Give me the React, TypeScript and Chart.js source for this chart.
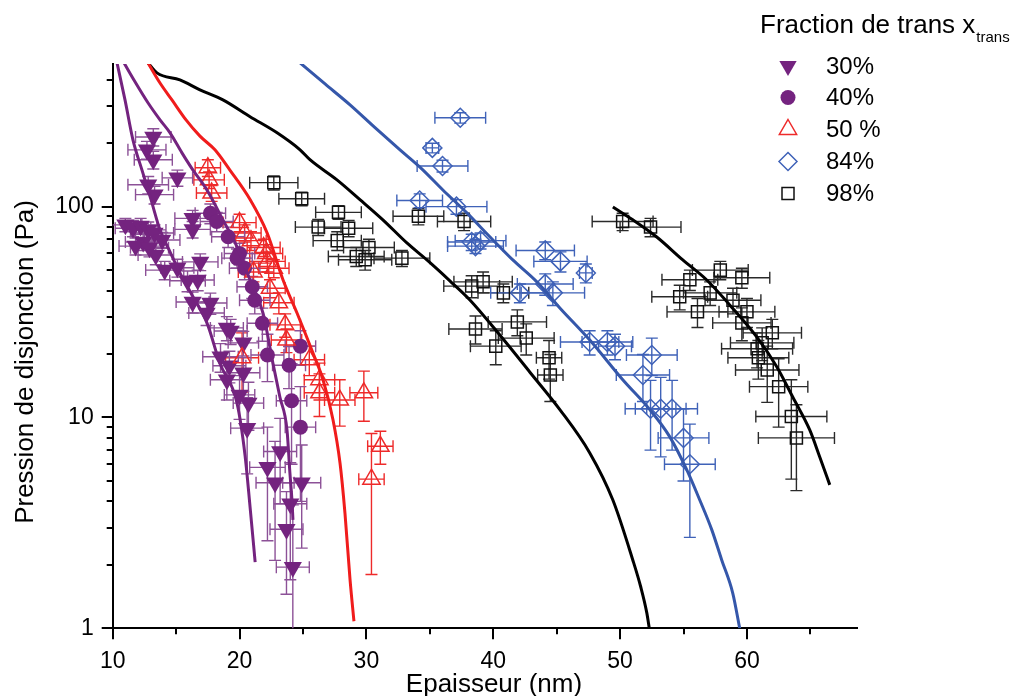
import React, { useEffect, useRef } from "react";
import { Chart, registerables } from "chart.js";

Chart.register(...registerables);

const FONT = "'Liberation Sans', Arial, Helvetica, sans-serif";

// ---- axes ----
const xMin = 10;
const xMax = 68.7;
const yMin = 1;
const yMax = 475;
const xTickValues = [10, 15, 20, 25, 30, 35, 40, 45, 50, 55, 60, 65];
const xLabeledTicks = [10, 20, 30, 40, 50, 60];
const xTickLabels = ["10", "20", "30", "40", "50", "60"];
const yTickValues = [1, 2, 3, 4, 5, 6, 7, 8, 9, 10, 20, 30, 40, 50, 60, 70, 80, 90, 100, 200, 300, 400];
const yLabeledTicks = [1, 10, 100];
const yTickLabels = ["1", "10", "100"];
const xTitle = "Epaisseur (nm)";
const yTitle = "Pression de disjonction (Pa)";
const legendTitle = "Fraction de trans x";
const legendSub = "trans";
const legendLabels = ["30%", "40%", "50 %", "84%", "98%"];

// ---- model curves ----
const curveA_X = [10.34, 10.97, 11.6, 12.31, 13.02, 13.73, 14.52, 15.3, 16.25, 17.43, 18.45, 19.8, 20.43, 20.83, 21.23];
const curveA_Y = [481, 321, 207, 149, 108, 77.6, 61.0, 48.5, 38.1, 28.1, 18.1, 11.7, 6.64, 3.76, 2.06];
const curveB_X = [10.89, 11.76, 12.78, 13.73, 14.52, 15.46, 16.33, 17.43, 18.69, 19.8, 20.83, 21.85, 22.63, 23.18, 23.74, 23.97, 24.13, 24.21];
const curveB_Y = [481, 391, 311, 258, 224, 180, 149, 120, 86.6, 64.4, 44.9, 31.3, 18.1, 12.5, 8.73, 5.46, 4.06, 3.27];
const curveRed_X = [12.78, 13.73, 14.67, 15.78, 16.88, 18.06, 19.24, 20.83, 22.17, 23.43, 24.53, 25.79, 26.58, 27.37, 27.92, 28.31, 28.71, 29.02];
const curveRed_Y = [481, 386, 321, 258, 216, 186, 149, 108, 75.1, 44.9, 31.3, 20.2, 15.1, 9.73, 6.08, 3.52, 1.7, 1.08];
const curveBlk1_X = [12.78, 13.49, 15.3, 16.88, 18.69, 20.83, 22.96, 24.77, 25.55, 27.68, 29.49, 31.3, 33.19, 34.77, 36.58, 38.16, 40.52, 42.89, 45.25, 47.61, 49.43, 51.0, 51.63, 52.11, 52.3];
const curveBlk1_Y = [481, 431, 399, 358, 321, 267, 224, 186, 167, 134, 108, 86.6, 67.3, 55.9, 44.5, 36.1, 24.6, 16.4, 10.9, 6.79, 4.06, 2.11, 1.57, 1.18, 1.0];
const curveBlue_X = [24.77, 26.74, 28.71, 30.68, 32.65, 34.22, 36.03, 37.92, 39.73, 41.54, 43.44, 45.25, 47.61, 50.21, 52.34, 53.92, 55.26, 56.28, 57.23, 58.01, 58.88, 59.43];
const curveBlue_Y = [481, 382, 304, 237, 186, 154, 120, 93.4, 72.0, 55.9, 44.0, 33.1, 23.3, 15.1, 10.9, 8.09, 5.64, 4.06, 2.93, 2.11, 1.47, 1.0];
const curveBlk2_X = [49.43, 51.0, 52.89, 54.94, 56.83, 58.64, 60.77, 62.35, 63.61, 64.95, 65.74, 66.53];
const curveBlk2_Y = [99.7, 86.6, 71.8, 55.9, 44.9, 34.2, 24.1, 17.4, 12.5, 8.73, 6.5, 4.79];

// ---- measured points: [thickness, pressure, thickness error, pressure error] ----
const pts30 = [
  [13.2, 214, 1.4, 20], [12.7, 186, 1.5, 18], [13.2, 167, 1.5, 16], [15.1, 137, 1.2, 12],
  [12.8, 127, 1.6, 12], [13.3, 114, 1.5, 11], [16.3, 88, 1.4, 8], [16.3, 78, 1.4, 7],
  [11.0, 82, 1.3, 6], [11.6, 79, 1.4, 7], [12.2, 81, 1.3, 7], [12.8, 77.6, 1.4, 7],
  [13.3, 75, 1.5, 7], [13.9, 69.5, 1.4, 6], [12.4, 68, 1.4, 6], [11.8, 65, 1.3, 6],
  [12.9, 63.8, 1.5, 6], [13.4, 59, 1.4, 6], [14.1, 50, 1.5, 5], [15.1, 51.3, 1.3, 5],
  [15.9, 44.5, 1.4, 5], [16.7, 44.9, 1.3, 5], [16.9, 54.7, 1.4, 5], [16.3, 35.3, 1.3, 4],
  [17.7, 34.9, 1.3, 4], [17.4, 31.3, 1.4, 4], [19.0, 26.6, 1.3, 3.5], [19.3, 25.7, 1.3, 3.5],
  [18.5, 19.4, 1.4, 3], [19.2, 17.6, 1.3, 3], [19.0, 15.1, 1.3, 3], [20.3, 16.3, 1.3, 3],
  [20.0, 12.8, 1.2, 3], [20.7, 11.7, 1.2, 3], [20.6, 8.9, 1.3, 3.5], [20.3, 22.6, 1.2, 3],
  [23.2, 6.9, 1.3, 3], [22.2, 5.8, 1.4, 3.2], [22.8, 4.9, 1.5, 2.8], [24.9, 4.9, 1.5, 2.5],
  [24.0, 3.9, 1.3, 2.2], [23.7, 2.95, 1.3, 1.5], [24.2, 1.95, 1.3, 1.9],
];
const pts40 = [
  [17.7, 93, 1.2, 10], [18.2, 85, 1.3, 9], [19.1, 72, 1.3, 8], [20.0, 60, 1.2, 7],
  [20.4, 51, 1.2, 6], [19.8, 57, 1.2, 6], [21.2, 36, 1.2, 5], [21.8, 28, 1.2, 5],
  [22.2, 19.8, 1.3, 5], [24.8, 21.8, 1.2, 4], [23.9, 17.7, 1.3, 4], [24.1, 12.0, 1.2, 6],
  [24.8, 9.0, 1.2, 5], [21.0, 41.7, 1.2, 5],
];
const pts50 = [
  [17.5, 153, 1.0, 14], [17.6, 134, 1.2, 12], [17.8, 116, 1.2, 10], [20.0, 84, 1.3, 8],
  [20.4, 75, 1.3, 7], [20.9, 69, 1.2, 7], [21.9, 64, 1.3, 6], [22.1, 60, 1.3, 6],
  [22.2, 55, 1.4, 6], [22.7, 51, 1.2, 5], [21.1, 49, 1.2, 5], [22.4, 41, 1.2, 4],
  [23.1, 35, 1.2, 4], [23.6, 27.5, 1.2, 3.5], [23.7, 23.3, 1.2, 3], [20.2, 19.2, 1.3, 6],
  [25.5, 18.8, 1.2, 3], [26.3, 15.1, 1.2, 3], [26.3, 13.1, 1.2, 3], [27.9, 12.1, 1.2, 3],
  [29.8, 13.1, 1.1, 3.5], [31.1, 7.3, 1.0, 1.3], [30.4, 5.1, 1.0, 3.3],
];
const pts84 = [
  [37.4, 264, 2.0, 15], [35.2, 190, 0.5, 10], [36.0, 156, 2.0, 10], [34.2, 107, 1.8, 8],
  [37.1, 100, 2.4, 8], [38.3, 68, 1.9, 6], [39.0, 69, 2.0, 6], [38.6, 65, 2.2, 5],
  [44.1, 62, 2.3, 6], [45.3, 55, 2.1, 6], [47.3, 48.5, 0.5, 5], [44.1, 43, 2.2, 5],
  [44.7, 39, 2.5, 5], [42.1, 39, 2.3, 4], [47.6, 22.8, 2.3, 3], [49.0, 22.8, 2.0, 3],
  [49.6, 21.8, 1.3, 3], [52.5, 19.8, 2.0, 4], [51.8, 15.9, 2.1, 4], [52.4, 11.0, 2.0, 4],
  [53.2, 11.0, 2.0, 4.5], [54.1, 11.0, 2.0, 4], [55.0, 8.0, 2.0, 3], [55.5, 6.0, 2.0, 3.3],
];
const pts98 = [
  [22.7, 130, 1.9, 10], [24.9, 109, 1.8, 8], [27.8, 94, 1.8, 7], [26.2, 80, 1.8, 7],
  [28.6, 79, 1.9, 7], [27.7, 69, 1.9, 7], [30.2, 64, 2.0, 6], [29.2, 58, 2.2, 6],
  [29.9, 56, 2.1, 6], [32.8, 57, 2.2, 5], [34.1, 90, 2.0, 8], [37.7, 85, 2.1, 8],
  [38.3, 42, 2.2, 5], [39.2, 44, 2.3, 5], [40.8, 39, 2.0, 4], [38.6, 26.3, 2.1, 4],
  [40.2, 21.8, 2.0, 4], [41.9, 28.4, 2.3, 4], [42.6, 23.8, 2.2, 4], [44.4, 19.2, 1.0, 4],
  [44.5, 15.9, 1.0, 4], [50.2, 85, 2.4, 8], [52.4, 80, 2.4, 8], [57.9, 50, 2.2, 5],
  [59.6, 46, 2.2, 5], [55.5, 45, 2.2, 5], [54.7, 37.4, 2.2, 5], [57.1, 39, 2.1, 5],
  [58.9, 36, 2.2, 5], [60.0, 31.7, 2.2, 5], [56.1, 31.7, 2.4, 5], [59.6, 28.1, 2.3, 5],
  [62.0, 25.2, 2.3, 4], [61.2, 22.6, 2.5, 4], [60.8, 21.2, 2.8, 4], [60.9, 19.2, 2.4, 4],
  [61.6, 16.8, 2.5, 5], [62.5, 14.0, 2.3, 5], [63.5, 10.1, 2.8, 5], [63.9, 8.0, 3.0, 3.5],
];

// ---- colours ----
const PURPLE = "#74237F";
const PURPLE_ERR = "#8C5197";
const RED = "#EE2A2A";
const RED_LINE = "#F01C1C";
const BLUE = "#3F62B8";
const BLUE_LINE = "#3557AA";
const BLACK = "#111111";

const toXY = (xs: number[], ys: number[]) => xs.map((x, i) => ({ x, y: ys[i] }));
const toPts = (p: number[][]) => p.map((r) => ({ x: r[0], y: r[1] }));

function curve(xs: number[], ys: number[], color: string) {
  return {
    data: toXY(xs, ys),
    showLine: true,
    borderColor: color,
    borderWidth: 3,
    pointRadius: 0,
    fill: false,
    cubicInterpolationMode: "monotone",
  };
}

function drawMarker(ctx: CanvasRenderingContext2D, kind: number, x: number, y: number) {
  ctx.save();
  ctx.lineWidth = 1.5;
  ctx.beginPath();
  if (kind === 0) {
    const r = 10;
    ctx.moveTo(x, y + r);
    ctx.lineTo(x - r * 0.866, y - r / 2);
    ctx.lineTo(x + r * 0.866, y - r / 2);
    ctx.closePath();
    ctx.fillStyle = PURPLE;
    ctx.fill();
  } else if (kind === 1) {
    ctx.arc(x, y, 7.5, 0, Math.PI * 2);
    ctx.fillStyle = PURPLE;
    ctx.fill();
  } else if (kind === 2) {
    const r = 10;
    ctx.moveTo(x, y - r);
    ctx.lineTo(x + r * 0.866, y + r / 2);
    ctx.lineTo(x - r * 0.866, y + r / 2);
    ctx.closePath();
    ctx.strokeStyle = RED;
    ctx.stroke();
  } else if (kind === 3) {
    const r = 9;
    ctx.moveTo(x, y - r);
    ctx.lineTo(x + r, y);
    ctx.lineTo(x, y + r);
    ctx.lineTo(x - r, y);
    ctx.closePath();
    ctx.strokeStyle = BLUE;
    ctx.stroke();
  } else {
    ctx.rect(x - 6, y - 6, 12, 12);
    ctx.strokeStyle = BLACK;
    ctx.stroke();
  }
  ctx.restore();
}

const errorBarPlugin = {
  id: "errorBars",
  beforeDatasetsDraw(chart: any) {
    const { ctx, chartArea: ca } = chart;
    const xs = chart.scales.x;
    const ys = chart.scales.y;
    ctx.save();
    ctx.beginPath();
    ctx.rect(ca.left, ca.top, ca.right - ca.left, ca.bottom - ca.top);
    ctx.clip();
    chart.data.datasets.forEach((ds: any) => {
      if (!ds.errorBars) return;
      ctx.strokeStyle = ds.errorColor;
      ctx.lineWidth = 1.4;
      ds.errorBars.forEach((p: number[]) => {
        const [vx, vy, dx, dy] = p;
        const px = xs.getPixelForValue(vx);
        const py = ys.getPixelForValue(vy);
        const xl = xs.getPixelForValue(vx - dx);
        const xr = xs.getPixelForValue(vx + dx);
        const yt = ys.getPixelForValue(vy + dy);
        const hasLow = vy - dy > 0.05;
        const yb = hasLow ? ys.getPixelForValue(vy - dy) : ca.bottom + 20;
        const c = 6;
        ctx.beginPath();
        ctx.moveTo(xl, py); ctx.lineTo(xr, py);
        ctx.moveTo(xl, py - c); ctx.lineTo(xl, py + c);
        ctx.moveTo(xr, py - c); ctx.lineTo(xr, py + c);
        ctx.moveTo(px, yt); ctx.lineTo(px, yb);
        ctx.moveTo(px - c, yt); ctx.lineTo(px + c, yt);
        if (hasLow) { ctx.moveTo(px - c, yb); ctx.lineTo(px + c, yb); }
        ctx.stroke();
      });
    });
    ctx.restore();
  },
};

const decorPlugin = {
  id: "decor",
  afterDraw(chart: any) {
    const { ctx, chartArea: ca } = chart;
    const xs = chart.scales.x;
    const ys = chart.scales.y;
    ctx.save();
    // tick marks
    ctx.strokeStyle = "#000";
    ctx.lineWidth = 2;
    ctx.beginPath();
    xTickValues.forEach((v) => {
      const px = Math.round(xs.getPixelForValue(v));
      const len = xLabeledTicks.includes(v) ? 11 : 6;
      ctx.moveTo(px, ca.bottom);
      ctx.lineTo(px, ca.bottom + len);
    });
    yTickValues.forEach((v) => {
      const py = Math.round(ys.getPixelForValue(v));
      const len = yLabeledTicks.includes(v) ? 11 : 6;
      ctx.moveTo(ca.left, py);
      ctx.lineTo(ca.left - len, py);
    });
    ctx.stroke();

    ctx.fillStyle = "#000";
    // axis titles
    ctx.font = `26px ${FONT}`;
    ctx.textAlign = "center";
    ctx.textBaseline = "alphabetic";
    ctx.fillText(xTitle, 494, 692);
    ctx.save();
    ctx.translate(33, 362);
    ctx.rotate(-Math.PI / 2);
    ctx.fillText(yTitle, 0, 0);
    ctx.restore();

    // legend
    ctx.textAlign = "left";
    ctx.font = `26px ${FONT}`;
    ctx.fillText(legendTitle, 760, 33);
    const w = ctx.measureText(legendTitle).width;
    ctx.font = `15px ${FONT}`;
    ctx.fillText(legendSub, 760 + w + 1, 42);
    ctx.font = `24px ${FONT}`;
    ctx.textBaseline = "middle";
    const rows = [66, 97.5, 129.5, 161.5, 193.5];
    legendLabels.forEach((lab, i) => {
      drawMarker(ctx, i, 788, rows[i]);
      ctx.fillStyle = "#000";
      ctx.fillText(lab, 826, rows[i] + 1);
    });
    ctx.restore();
  },
};

export default function App() {
  const ref = useRef<HTMLCanvasElement | null>(null);

  useEffect(() => {
    if (!ref.current) return;
    const scatter = (pts: number[][], style: any, errColor: string) => ({
      data: toPts(pts),
      showLine: false,
      errorBars: pts,
      errorColor: errColor,
      ...style,
    });
    const chart = new Chart(ref.current, {
      type: "scatter",
      data: {
        datasets: [
          curve(curveA_X, curveA_Y, PURPLE),
          curve(curveB_X, curveB_Y, PURPLE),
          curve(curveRed_X, curveRed_Y, RED_LINE),
          curve(curveBlk1_X, curveBlk1_Y, "#000"),
          curve(curveBlue_X, curveBlue_Y, BLUE_LINE),
          curve(curveBlk2_X, curveBlk2_Y, "#000"),
          scatter(pts98, { pointStyle: "rect", pointRadius: 8.5, borderColor: BLACK, backgroundColor: "rgba(0,0,0,0)", borderWidth: 1.5 }, "#2a2a2a"),
          scatter(pts84, { pointStyle: "rectRot", pointRadius: 9.5, borderColor: BLUE, backgroundColor: "rgba(0,0,0,0)", borderWidth: 1.5 }, BLUE),
          scatter(pts50, { pointStyle: "triangle", pointRadius: 10, borderColor: RED, backgroundColor: "rgba(0,0,0,0)", borderWidth: 1.5 }, RED),
          scatter(pts40, { pointStyle: "circle", pointRadius: 7.5, borderColor: PURPLE, backgroundColor: PURPLE, borderWidth: 0 }, PURPLE_ERR),
          scatter(pts30, { pointStyle: "triangle", pointRotation: 180, pointRadius: 10.5, borderColor: PURPLE, backgroundColor: PURPLE, borderWidth: 0 }, PURPLE_ERR),
        ] as any,
      },
      options: {
        responsive: false,
        animation: false,
        devicePixelRatio: 1,
        events: [],
        layout: { padding: { left: 0, right: 1011 - 857.3, top: 64, bottom: 0 } },
        plugins: { legend: { display: false }, tooltip: { enabled: false } },
        scales: {
          x: {
            type: "linear",
            min: xMin,
            max: xMax,
            afterBuildTicks: (s: any) => {
              s.ticks = xTickValues.map((v) => ({ value: v }));
            },
            afterFit: (s: any) => {
              s.height = 696 - 628.3;
            },
            ticks: {
              autoSkip: false,
              maxRotation: 0,
              padding: 20,
              color: "#000",
              font: { family: FONT, size: 23 },
              callback: (v: any) => {
                const i = xLabeledTicks.indexOf(Number(v));
                return i >= 0 ? xTickLabels[i] : "";
              },
            },
            grid: { display: false, drawTicks: false },
            border: { display: true, color: "#000", width: 2 },
          },
          y: {
            type: "logarithmic",
            min: yMin,
            max: yMax,
            afterBuildTicks: (s: any) => {
              s.ticks = yTickValues.map((v) => ({ value: v }));
            },
            afterFit: (s: any) => {
              s.width = 112.7;
            },
            ticks: {
              autoSkip: false,
              padding: 19,
              color: "#000",
              font: { family: FONT, size: 23 },
              callback: (v: any) => {
                const i = yLabeledTicks.indexOf(Number(v));
                return i >= 0 ? yTickLabels[i] : "";
              },
            },
            grid: { display: false, drawTicks: false },
            border: { display: true, color: "#000", width: 2 },
          },
        },
      } as any,
      plugins: [errorBarPlugin, decorPlugin],
    });
    return () => chart.destroy();
  }, []);

  return (
    <div style={{ position: "absolute", left: 0, top: 0, width: 1011, height: 696, background: "#fff" }}>
      <canvas ref={ref} width={1011} height={696} style={{ display: "block" }} />
    </div>
  );
}
